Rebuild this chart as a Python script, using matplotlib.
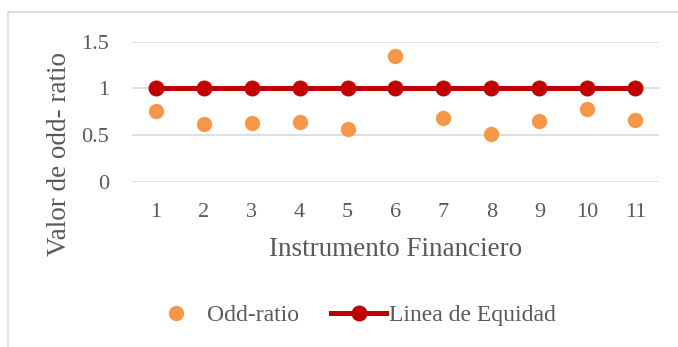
import matplotlib
matplotlib.use("Agg")
import matplotlib.pyplot as plt
from matplotlib.lines import Line2D

# Data
instrumentos = ["1", "2", "3", "4", "5", "6", "7", "8", "9", "10", "11"]
odd_ratio = [0.76, 0.615, 0.625, 0.645, 0.56, 1.345, 0.685, 0.51, 0.65, 0.78, 0.66]
linea_equidad = [1, 1, 1, 1, 1, 1, 1, 1, 1, 1, 1]
y_ticks = [0, 0.5, 1, 1.5]
y_tick_labels = ["0", "0.5", "1", "1.5"]

TEXT = "#595959"
GRID = "#D9D9D9"
ORANGE = "#F79646"
RED = "#C00000"

plt.rcParams["font.family"] = ["Liberation Serif", "DejaVu Serif"]

W, H = 678, 347
fig = plt.figure(figsize=(W / 100, H / 100), dpi=100)

# Chart frame (left and top edges)
fig.add_artist(Line2D([8.0 / W, 8.0 / W], [0, 1 - 12 / H], color=GRID, lw=1.2,
                      transform=fig.transFigure))
fig.add_artist(Line2D([8.0 / W, 1], [1 - 12 / H, 1 - 12 / H], color=GRID, lw=1.2,
                      transform=fig.transFigure))

left, right = 131.7 / W, 659.3 / W
top_px, bot_px = 41.7, 181.7
ax = fig.add_axes([left, 1 - bot_px / H, right - left, (bot_px - top_px) / H])

x = list(range(len(instrumentos)))
ax.plot(x, odd_ratio, linestyle="none", marker="o", markersize=11,
        color=ORANGE, markeredgewidth=0, label="Odd-ratio", zorder=3)
ax.plot(x, linea_equidad, color=RED, lw=3.6, marker="o", markersize=11.5,
        markeredgewidth=0, label="Linea de Equidad", zorder=4)

ax.set_xlim(-0.5, len(instrumentos) - 0.5)
ax.set_ylim(0, 1.5)
ax.set_xticks(x)
ax.set_xticklabels(instrumentos)
ax.set_yticks(y_ticks)
ax.set_yticklabels(y_tick_labels)
ax.tick_params(axis="both", length=0, labelsize=16, labelcolor=TEXT)
ax.tick_params(axis="x", pad=15)
ax.tick_params(axis="y", pad=16)
ax.grid(axis="y", color=GRID, lw=1.2)
ax.set_axisbelow(True)
for s in ax.spines.values():
    s.set_visible(False)

# Axis titles
fig.text(395.5 / W, 1 - 256 / H, "Instrumento Financiero", fontsize=19.5,
         color=TEXT, ha="center", va="baseline")
fig.text(59 / W, 1 - 154 / H, "Valor de odd- ratio", rotation=90, fontsize=19.5,
         color=TEXT, ha="center", va="center")

leg = fig.legend(loc="center", bbox_to_anchor=(352.5 / W, 1 - 315 / H), ncol=2,
                 frameon=False, fontsize=17, handlelength=2.33, columnspacing=1.36,
                 handletextpad=0.13, borderpad=0, borderaxespad=0)
for t in leg.get_texts():
    t.set_color(TEXT)

fig.savefig("out.png", dpi=100)
